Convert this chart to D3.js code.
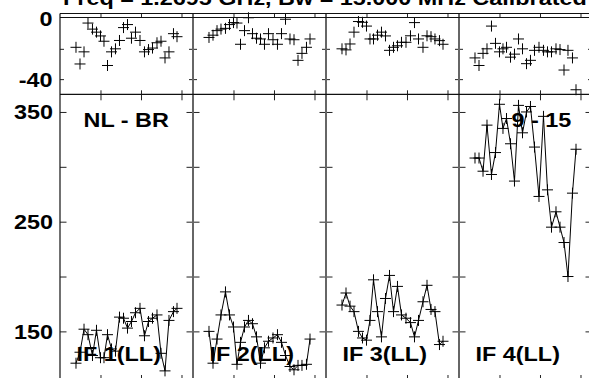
<!DOCTYPE html>
<html><head><meta charset="utf-8">
<script src="https://cdn.jsdelivr.net/npm/d3@7"></script>
<style>
body{margin:0;background:#fff}
svg{display:block}
text{font-family:"Liberation Sans",Arial,Helvetica,sans-serif;font-weight:bold;fill:#000}
</style>
</head><body>
<svg id="c" width="589" height="378"></svg>
<script>
// ---------- data ----------
const title = "Freq = 1.2695 GHz, Bw = 15.000 MHz  Calibrated";
const baselineLabel = "NL - BR";
const antennaLabel = "9 - 15";
const ifLabels = ["IF 1(LL)", "IF 2(LL)", "IF 3(LL)", "IF 4(LL)"];

// time of each sample (hours)
const times = [0.395,0.494,0.593,0.691,0.802,0.901,1.000,1.086,1.173,1.272,1.370,1.469,1.568,
               1.667,1.765,1.864,1.975,2.086,2.185,2.284,2.395,2.494,2.593,2.691,2.802,2.889];

// amplitudes
const ampIF1 = [121,131,152,147,128,151,126,126,147,134,132,163,162,153,159,167,171,146,159,162,165,130,114,160,168,171];
const ampIF2 = [150,121,143,165,186,165,154,120,140,154,160,157,145,121,135,141,144,147,140,128,118,115,119,119,120,143];
const ampIF3 = [174,185,173,168,150,144,142,160,197,168,145,180,201,168,191,165,162,158,145,160,177,192,170,168,138,141];
const ampIF4 = [308,308,296,338,293,313,357,335,344,321,287,356,331,350,355,318,273,346,279,245,259,245,231,200,276,316];

// phases (degrees)
const phaseIF1 = [-19,-30,-22,-3,-7,-9,-11.5,-15,-31,-22,-20,-14.5,-6,-4,-13,-9,-14.5,-22,-20.5,-19.5,-16,-15,-26,-22,-10,-12];
const phaseIF2 = [-12.5,-11,-8,-7,-6.5,-4,-2.7,-3,-17,-8,0.5,-10,-13,-13.5,-17,-10,-14,-17,-10,-0.5,-13.5,-14,-27.6,-23,-19,-13.5];
const phaseIF3 = [-20,-20.7,-16.8,-9,-2,-2.5,-5,-13.5,-13.5,-11,-9,-11.5,-21,-19,-18,-15.7,-15.7,-11.4,-2.7,-13.5,-19,-11.4,-12,-13.5,-14.6,-17];
const phaseIF4 = [-26,-31,-23,-20,-5,-16.4,-22,-20,-19,-25.5,-23.5,-13.5,-20,-29.8,-27.6,-21,-19,-21,-22,-22,-20,-20.5,-34,-21,-26,-47];

const ampTicks = [150,200,250,300,350];
const ampTickLabels = ["150","","250","","350"];
const phaseTicks = [0,-20,-40];
const phaseTickLabels = ["0","","-40"];
const timeTicks = [1,2,3];

// ---------- layout ----------
const amps = [ampIF1, ampIF2, ampIF3, ampIF4];
const phases = [phaseIF1, phaseIF2, phaseIF3, phaseIF4];
const left0 = 60, pw = 133;
const phTop = 13.5, phBot = 94.3, ampBot = 379;
const sx = 1.17; // horizontal stretch of the lettering

const svg = d3.select("#c");
const yPh = d3.scaleLinear().domain([-50, 3.3]).range([phBot, phTop]);
const yAmp = d3.scaleLinear().domain([106.6, 366.1]).range([ampBot, phBot]);

function label(g, str, x, y, anchor, size) {
  g.append("text")
    .attr("transform", `translate(${x},${y}) scale(${sx},1)`)
    .attr("text-anchor", anchor || "start")
    .attr("font-size", size || 20)
    .text(str);
}

// title (mostly cut off at the top)
label(svg, title, 63, 4.5, "start", 20);

const cross = "M-5.5,0H5.5M0,-5.5V5.5";

for (let i = 0; i < 4; i++) {
  const L = left0 + i * pw;
  const x = d3.scaleLinear().domain([0, 3.284]).range([L, L + pw]);
  const g = svg.append("g");

  // x ticks
  const tickStyle = s => s.call(a => a.select(".domain").remove())
                          .selectAll("line").attr("stroke", "#222");
  g.append("g").attr("transform", `translate(0,${phTop})`)
    .call(d3.axisBottom(x).tickValues(timeTicks).tickSize(4).tickFormat(""))
    .call(tickStyle);
  g.append("g").attr("transform", `translate(0,${phBot})`)
    .call(d3.axisTop(x).tickValues(timeTicks).tickSize(4).tickFormat(""))
    .call(tickStyle);
  g.append("g").attr("transform", `translate(0,${phBot})`)
    .call(d3.axisBottom(x).tickValues(timeTicks).tickSize(6).tickFormat(""))
    .call(tickStyle);
  g.append("g").attr("transform", `translate(0,${ampBot})`)
    .call(d3.axisTop(x).tickValues(timeTicks).tickSize(4).tickFormat(""))
    .call(tickStyle);

  // y ticks (inside, on both edges)
  g.append("g").attr("transform", `translate(${L},0)`)
    .call(d3.axisRight(yAmp).tickValues(ampTicks).tickSize(6.5).tickFormat(""))
    .call(tickStyle);
  g.append("g").attr("transform", `translate(${L + pw},0)`)
    .call(d3.axisLeft(yAmp).tickValues(ampTicks).tickSize(6.5).tickFormat(""))
    .call(tickStyle);
  g.append("g").attr("transform", `translate(${L},0)`)
    .call(d3.axisRight(yPh).tickValues(phaseTicks.slice(1)).tickSize(4).tickFormat(""))
    .call(tickStyle);
  g.append("g").attr("transform", `translate(${L + pw},0)`)
    .call(d3.axisLeft(yPh).tickValues(phaseTicks.slice(1)).tickSize(4).tickFormat(""))
    .call(tickStyle);

  // vertical frame line
  g.append("line").attr("x1", L).attr("x2", L).attr("y1", phTop).attr("y2", ampBot)
    .attr("stroke", i === 0 ? "#111" : "#666").attr("stroke-width", i === 0 ? 1.2 : 2);

  // phase points
  g.append("g").selectAll("path").data(phases[i]).join("path")
    .attr("d", cross)
    .attr("transform", (d, k) => `translate(${x(times[k])},${yPh(d)})`)
    .attr("fill", "none").attr("stroke", "#000").attr("stroke-width", 1);

  // amplitude line + points
  const line = d3.line().x((d, k) => x(times[k])).y(d => yAmp(d));
  g.append("path").datum(amps[i]).attr("d", line)
    .attr("fill", "none").attr("stroke", "#000").attr("stroke-width", 1);
  g.append("g").selectAll("path").data(amps[i]).join("path")
    .attr("d", cross)
    .attr("transform", (d, k) => `translate(${x(times[k])},${yAmp(d)})`)
    .attr("fill", "none").attr("stroke", "#000").attr("stroke-width", 1);

  label(g, ifLabels[i], L + 16.5, 360.5, "start", 20);
}
// right edge frame (off-image)
svg.append("line").attr("x1", left0 + 4 * pw).attr("x2", left0 + 4 * pw)
  .attr("y1", phTop).attr("y2", ampBot).attr("stroke", "#666").attr("stroke-width", 2);

// horizontal frame lines
[phTop, 17.5, phBot, ampBot].forEach(y => {
  svg.append("line").attr("x1", left0).attr("x2", left0 + 4 * pw)
    .attr("y1", y).attr("y2", y).attr("stroke", "#111").attr("stroke-width", 1.2);
});

// y tick labels
ampTicks.forEach((t, k) => {
  if (ampTickLabels[k]) label(svg, ampTickLabels[k], 53, yAmp(t) + 7.3, "end", 20);
});
phaseTicks.forEach((t, k) => {
  if (phaseTickLabels[k]) label(svg, phaseTickLabels[k], 52.5, yPh(t) + 7.5, "end", 20);
});

// panel captions
label(svg, baselineLabel, 83.5, 126.5, "start", 20);
label(svg, antennaLabel, 511.5, 126.5, "start", 20);
</script>
</body></html>
